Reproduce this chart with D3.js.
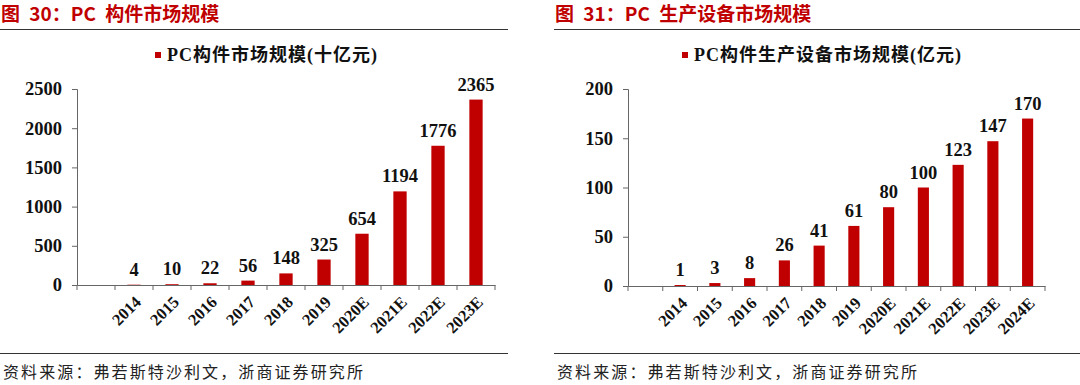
<!DOCTYPE html>
<html>
<head>
<meta charset="utf-8">
<script src="https://cdn.jsdelivr.net/npm/d3@7"></script>
<style>
  body { margin: 0; background: #fff; }
  svg { display: block; }
</style>
</head>
<body>
<svg id="chart" width="1080" height="385"></svg>
<script>
// left panel: PC components market size (10 billion yuan)
const leftTitle = "图 30：PC 构件市场规模";
const leftLegend = "PC构件市场规模(十亿元)";
const leftYears = ["2014", "2015", "2016", "2017", "2018", "2019", "2020E", "2021E", "2022E", "2023E"];
const leftValues = [4, 10, 22, 56, 148, 325, 654, 1194, 1776, 2365];
const leftTicks = [0, 500, 1000, 1500, 2000, 2500];

// right panel: PC production equipment market size (100 million yuan)
const rightTitle = "图 31：PC 生产设备市场规模";
const rightLegend = "PC构件生产设备市场规模(亿元)";
const rightYears = ["2014", "2015", "2016", "2017", "2018", "2019", "2020E", "2021E", "2022E", "2023E", "2024E"];
const rightValues = [1, 3, 8, 26, 41, 61, 80, 100, 123, 147, 170];
const rightTicks = [0, 50, 100, 150, 200];

const source = "资料来源：弗若斯特沙利文，浙商证券研究所";

const red = "#c00000";
const serif = "'Liberation Serif', 'Times New Roman', 'Noto Sans CJK SC', serif";
const cjk = "'Noto Sans CJK SC', sans-serif";

const svg = d3.select("#chart");

function panel(opt) {
    const g = svg.append("g").attr("transform", `translate(${opt.left},0)`);

    // header
    g.append("text")
        .attr("x", opt.titleX).attr("y", 21)
        .attr("fill", red)
        .attr("font-family", cjk)
        .attr("font-weight", "bold")
        .attr("font-size", 19)
        .attr("word-spacing", 5)
        .text(opt.title);

    g.append("line")
        .attr("x1", opt.lineX1).attr("x2", opt.lineX2)
        .attr("y1", 29.5).attr("y2", 29.5)
        .attr("stroke", "#333").attr("stroke-width", 1.2);

    // legend
    const lg = g.append("g").attr("transform", `translate(${opt.legendX},0)`);
    lg.append("rect")
        .attr("x", 0).attr("y", 52).attr("width", 6).attr("height", 6)
        .attr("fill", red);
    lg.append("text")
        .attr("x", 12).attr("y", 61)
        .attr("font-family", serif)
        .attr("font-weight", "bold")
        .attr("font-size", 18)
        .attr("letter-spacing", 1)
        .attr("fill", "#111")
        .text(opt.legend);

    // scales: first band is left empty like in the original
    const x = d3.scaleBand()
        .domain(["", ...opt.years])
        .range([opt.x0, opt.x1])
        .paddingInner(0)
        .paddingOuter(0);

    const y = d3.scaleLinear()
        .domain([0, d3.max(opt.ticks)])
        .range([opt.y0, 89]);

    // y axis
    const yAxis = g.append("g")
        .attr("transform", `translate(${opt.x0},0)`)
        .call(d3.axisLeft(y).tickValues(opt.ticks).tickFormat(d3.format("d")).tickSize(5).tickPadding(10));
    yAxis.select(".domain").attr("stroke", "#666");
    yAxis.selectAll(".tick line").attr("stroke", "#666");
    yAxis.selectAll(".tick text")
        .attr("font-family", serif)
        .attr("font-weight", "bold")
        .attr("font-size", 18.5)
        .attr("fill", "#111");

    // x axis
    const xAxis = g.append("g")
        .attr("transform", `translate(0,${opt.y0})`)
        .call(d3.axisBottom(x).tickSize(0).tickFormat(""));
    xAxis.select(".domain").attr("stroke", "#666");
    xAxis.selectAll(".tick").remove();

    const edges = x.domain().map(d => x(d)).concat([opt.x1]);
    xAxis.selectAll("line.sep")
        .data(edges)
        .join("line")
        .attr("class", "sep")
        .attr("x1", d => d).attr("x2", d => d)
        .attr("y1", 0).attr("y2", 5)
        .attr("stroke", "#666");

    const bw = x.bandwidth() * opt.barFrac;

    g.append("g")
        .selectAll("rect")
        .data(opt.values)
        .join("rect")
        .attr("x", (d, i) => x(opt.years[i]) + (x.bandwidth() - bw) / 2)
        .attr("y", d => y(d))
        .attr("width", bw)
        .attr("height", d => y(0) - y(d))
        .attr("fill", red);

    g.append("g")
        .selectAll("text")
        .data(opt.values)
        .join("text")
        .attr("x", (d, i) => x(opt.years[i]) + x.bandwidth() / 2)
        .attr("y", d => y(d) - 9)
        .attr("text-anchor", "middle")
        .attr("font-family", serif)
        .attr("font-weight", "bold")
        .attr("font-size", 18.5)
        .attr("fill", "#111")
        .text(d => d);

    g.append("g")
        .selectAll("text")
        .data(opt.years)
        .join("text")
        .attr("transform", d => `translate(${x(d) + x.bandwidth() / 2 + 4},${opt.y0 + 14}) rotate(-45)`)
        .attr("text-anchor", "end")
        .attr("dy", "0.35em")
        .attr("font-family", serif)
        .attr("font-weight", "bold")
        .attr("font-size", 16.5)
        .attr("fill", "#111")
        .text(d => d);

    // footer
    g.append("line")
        .attr("x1", opt.lineX1).attr("x2", opt.lineX2)
        .attr("y1", 353.5).attr("y2", 353.5)
        .attr("stroke", "#333").attr("stroke-width", 1.2);

    g.append("text")
        .attr("x", opt.titleX + 2).attr("y", 378)
        .attr("font-family", cjk)
        .attr("font-size", 16)
        .attr("letter-spacing", 2.1)
        .attr("fill", "#222")
        .text(source);
}

panel({
    left: 0, title: leftTitle, legend: leftLegend,
    years: leftYears, values: leftValues, ticks: leftTicks,
    titleX: 1, lineX1: 0, lineX2: 508, legendX: 155,
    x0: 77, x1: 495, y0: 285, barFrac: 0.35
});

panel({
    left: 540, title: rightTitle, legend: rightLegend,
    years: rightYears, values: rightValues, ticks: rightTicks,
    titleX: 15, lineX1: 14, lineX2: 540, legendX: 142,
    x0: 88, x1: 505, y0: 286, barFrac: 0.32
});
</script>
</body>
</html>
